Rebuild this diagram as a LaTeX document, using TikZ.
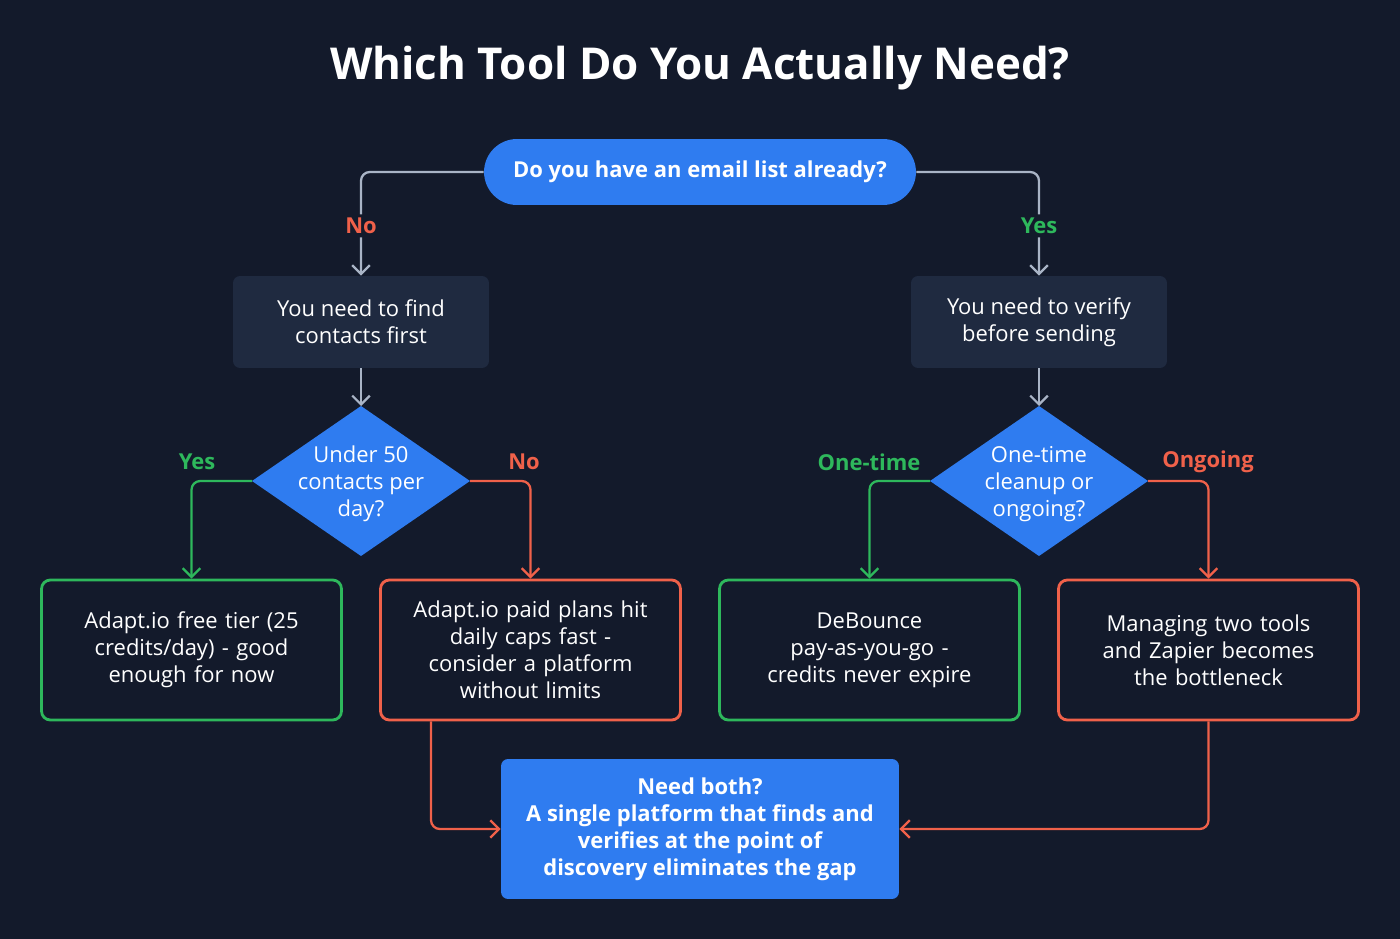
\documentclass[tikz,border=0pt]{standalone}
\usepackage{fontspec}
\setmainfont{Open Sans}
\usetikzlibrary{arrows.meta}
\usetikzlibrary{calc}

\definecolor{bgnavy}{HTML}{131A2B}
\definecolor{boxnavy}{HTML}{1F2A40}
\definecolor{qblue}{HTML}{2F7CF0}
\definecolor{okgreen}{HTML}{2EB85C}
\definecolor{nored}{HTML}{F0614A}
\definecolor{linegrey}{HTML}{A9B4C6}

\tikzset{
  txt/.style = {text=white, font=\fontsize{12.5}{15.3}\selectfont, align=center},
  stage/.style = {txt, fill=boxnavy, rounded corners=4pt, minimum width=5.12cm, minimum height=1.84cm},
  leaf/.style = {txt, draw=#1, line width=1.6pt, rounded corners=5pt, minimum width=6.0cm, minimum height=2.8cm, text width=5.0cm},
  link/.style = {draw=#1, line width=1.3pt, rounded corners=5pt, -{Straight Barb[length=5pt,width=10pt]}},
  tag/.style = {text=#1, font=\fontsize{12.5}{15}\selectfont\bfseries, fill=bgnavy, inner sep=2pt},
}

\begin{document}
\begin{tikzpicture}[x=0.02cm, y=-0.02cm]
  \fill[bgnavy] (0,0) rectangle (1400,939);
  \useasboundingbox (0,0) rectangle (1400,939);

  \node[text=white, font=\fontsize{25}{30}\selectfont\bfseries] (title) at (700,68) {Which Tool Do You Actually Need?};

  \node[txt, font=\fontsize{12.5}{15}\selectfont\bfseries, fill=qblue, rounded corners=0.66cm,
        minimum width=8.64cm, minimum height=1.32cm] (start) at (700,172) {Do you have an email list already?};

  \node[stage] (find) at (361,322) {You need to find\\contacts first};
  \node[stage] (verify) at (1039,322) {You need to verify\\before sending};

  % decision diamonds
  \fill[qblue] (252,481) coordinate (dlw) -- (361,406) coordinate (dln) -- (470,481) coordinate (dle) -- (361,556) coordinate (dls) -- cycle;
  \node[txt] (under) at (361,484) {Under 50\\contacts per\\day?};
  \fill[qblue] (930,481) coordinate (drw) -- (1039,406) coordinate (drn) -- (1148,481) coordinate (dre) -- (1039,556) coordinate (drs) -- cycle;
  \node[txt] (often) at (1039,484) {One-time\\cleanup or\\ongoing?};

  \node[leaf=okgreen] (free) at (191.5,650) {Adapt.io free tier (25\\credits/day) - good\\enough for now};
  \node[leaf=nored] (paid) at (530.5,650) {Adapt.io paid plans hit\\daily caps fast -\\consider a platform\\without limits};
  \node[leaf=okgreen] (debounce) at (869.5,650) {DeBounce\\pay-as-you-go -\\credits never expire};
  \node[leaf=nored] (zapier) at (1208.5,650) {Managing two tools\\and Zapier becomes\\the bottleneck};

  \node[txt, font=\fontsize{12.5}{15.3}\selectfont\bfseries, fill=qblue, rounded corners=4pt,
        minimum width=7.96cm, minimum height=2.8cm] (both) at (700,829)
        {Need both?\\A single platform that finds and\\verifies at the point of\\discovery eliminates the gap};

  % connectors
  \draw[link=linegrey] (start.west) -| (find.north) node[pos=0.76, tag=nored] {No};
  \draw[link=linegrey] (start.east) -| (verify.north) node[pos=0.76, tag=okgreen] {Yes};
  \draw[link=linegrey] (find.south) -- (dln);
  \draw[link=linegrey] (verify.south) -- (drn);

  \draw[link=okgreen] (dlw) -| (free.north);
  \draw[link=nored] (dle) -| (paid.north);
  \draw[link=okgreen] (drw) -| (debounce.north);
  \draw[link=nored] (dre) -| (zapier.north);
  \node[tag=okgreen, fill=none] (ylab) at (197,462) {Yes};
  \node[tag=nored, fill=none] (nlab) at (524,462) {No};
  \node[tag=okgreen, fill=none] (olab) at (869,462) {One-time};
  \node[tag=nored, fill=none] (glab) at (1208,462) {Ongoing};

  \draw[link=nored] ([xshift=-1.99cm]paid.south) |- (both.west);
  \draw[link=nored] (zapier.south) |- (both.east);
\end{tikzpicture}
\end{document}
